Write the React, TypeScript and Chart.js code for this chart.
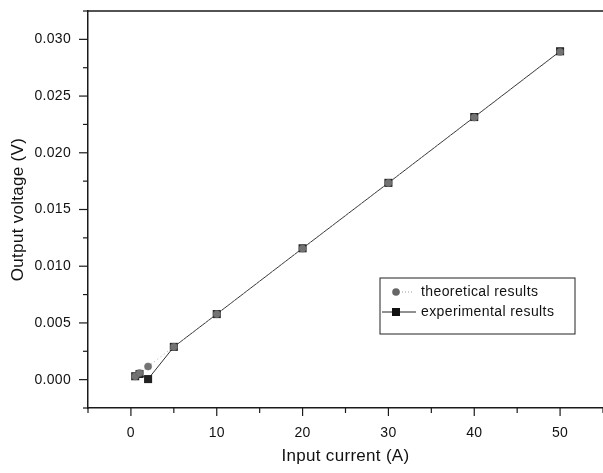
import React, { useEffect, useRef } from "react";
import { Chart, registerables } from "chart.js";

Chart.register(...registerables);

const currents = [0.5, 1, 2, 5, 10, 20, 30, 40, 50];
const theoretical = [0.00029, 0.00058, 0.00116, 0.00289, 0.00578, 0.01156, 0.01734, 0.02312, 0.0289];
const experimental = [0.0003, 0.0005, 0.00005, 0.00289, 0.00578, 0.01158, 0.01735, 0.02315, 0.02895];
const seriesNames = ["theoretical results", "experimental results"];
const xTitle = "Input current (A)";
const yTitle = "Output voltage (V)";

const FONT = "'Liberation Sans', Arial, sans-serif";

const framePlugin = {
  id: "frame",
  beforeDraw(chart: any) {
    chart.ctx.letterSpacing = "0.3px";
  },
  afterDraw(chart: any) {
    const ctx = chart.ctx;
    const { left, right, top, bottom } = chart.chartArea;
    const xs = chart.scales.x;
    const ys = chart.scales.y;
    ctx.save();
    ctx.strokeStyle = "#1a1a1a";
    ctx.lineWidth = 1.5;
    ctx.beginPath();
    ctx.moveTo(left, top);
    ctx.lineTo(right, top);
    ctx.stroke();
    // ticks
    ctx.lineWidth = 1.2;
    for (let v = -5; v <= 55; v += 5) {
      const px = xs.getPixelForValue(v);
      const major = v % 10 === 0;
      ctx.beginPath();
      ctx.moveTo(px, bottom);
      ctx.lineTo(px, bottom + (major ? 8 : 5));
      ctx.stroke();
    }
    for (let i = -1; i <= 13; i++) {
      const v = i * 0.0025;
      const py = ys.getPixelForValue(v);
      const major = i % 2 === 0;
      ctx.beginPath();
      ctx.moveTo(left, py);
      ctx.lineTo(left - (major ? 9 : 5), py);
      ctx.stroke();
    }
    // legend
    const bx = 380, by = 278, bw = 195, bh = 56;
    ctx.lineWidth = 1;
    ctx.strokeStyle = "#222";
    ctx.strokeRect(bx, by, bw, bh);
    ctx.font = `14px ${FONT}`;
    ctx.letterSpacing = "0.4px";
    ctx.fillStyle = "#111";
    ctx.textBaseline = "middle";
    // theoretical row
    const r1 = by + 14;
    ctx.strokeStyle = "#999";
    ctx.setLineDash([1, 2]);
    ctx.beginPath();
    ctx.moveTo(bx + 16, r1);
    ctx.lineTo(bx + 34, r1);
    ctx.stroke();
    ctx.setLineDash([]);
    ctx.fillStyle = "#666";
    ctx.beginPath();
    ctx.arc(bx + 16, r1, 3.8, 0, Math.PI * 2);
    ctx.fill();
    ctx.fillStyle = "#111";
    ctx.fillText(seriesNames[0], bx + 41, r1);
    // experimental row
    const r2 = by + 34;
    ctx.strokeStyle = "#222";
    ctx.lineWidth = 1;
    ctx.beginPath();
    ctx.moveTo(bx + 2, r2);
    ctx.lineTo(bx + 36, r2);
    ctx.stroke();
    ctx.fillStyle = "#111";
    ctx.fillRect(bx + 12, r2 - 4, 8, 8);
    ctx.fillText(seriesNames[1], bx + 41, r2);
    ctx.restore();
  },
};

export default function App() {
  const ref = useRef<HTMLCanvasElement>(null);
  useEffect(() => {
    document.body.style.margin = "0";
    const chart = new Chart(ref.current as HTMLCanvasElement, {
      type: "line",
      data: {
        datasets: [
          {
            label: seriesNames[0],
            data: currents.map((x, i) => ({ x, y: theoretical[i] })),
            borderColor: "#aaa",
            borderWidth: 1,
            borderDash: [1, 3],
            pointStyle: "circle",
            pointRadius: 3.6,
            pointBackgroundColor: "#737373",
            pointBorderColor: "#666",
            pointBorderWidth: 0.5,
            order: 0,
          },
          {
            label: seriesNames[1],
            data: currents.map((x, i) => ({ x, y: experimental[i] })),
            borderColor: "#333",
            borderWidth: 1,
            pointStyle: "rect",
            pointRadius: 5.7,
            pointBackgroundColor: "#222",
            pointBorderColor: "#222",
            pointBorderWidth: 0,
            order: 1,
          },
        ],
      },
      options: {
        responsive: false,
        animation: false,
        layout: { autoPadding: false, padding: { top: 11, right: 0, left: 0, bottom: 0 } },
        plugins: { legend: { display: false }, tooltip: { enabled: false } },
        scales: {
          x: {
            type: "linear",
            min: -5,
            max: 55,
            grid: { display: false },
            border: { display: true, color: "#1a1a1a", width: 1.5 },
            ticks: {
              stepSize: 5,
              padding: 9,
              color: "#111",
              font: { family: FONT, size: 14 },
              maxRotation: 0,
              autoSkip: false,
              callback: (v: any) => (Number(v) % 10 === 0 ? String(v) : ""),
            },
            title: {
              display: true,
              text: xTitle,
              color: "#111",
              font: { family: FONT, size: 17 },
              padding: { top: 0, bottom: 6 },
            },
            afterFit: (s: any) => {
              s.height = 65;
              s.paddingLeft = 0;
              s.paddingRight = 0;
            },
          },
          y: {
            type: "linear",
            min: -0.0025,
            max: 0.0325,
            grid: { display: false },
            border: { display: true, color: "#1a1a1a", width: 1.5 },
            ticks: {
              stepSize: 0.0025,
              padding: 9,
              color: "#111",
              font: { family: FONT, size: 14 },
              autoSkip: false,
              callback: (v: any) => {
                const n = Number(v) / 0.005;
                return Math.abs(n - Math.round(n)) < 1e-6 ? Number(v).toFixed(3) : "";
              },
            },
            title: {
              display: true,
              text: yTitle,
              color: "#111",
              font: { family: FONT, size: 17 },
              padding: { top: 8, bottom: 0 },
            },
            afterFit: (s: any) => {
              s.width = 88;
              s.paddingTop = 0;
              s.paddingBottom = 0;
            },
          },
        },
      },
      plugins: [framePlugin],
    });
    return () => chart.destroy();
  }, []);
  return <canvas ref={ref} width={603} height={473} />;
}
